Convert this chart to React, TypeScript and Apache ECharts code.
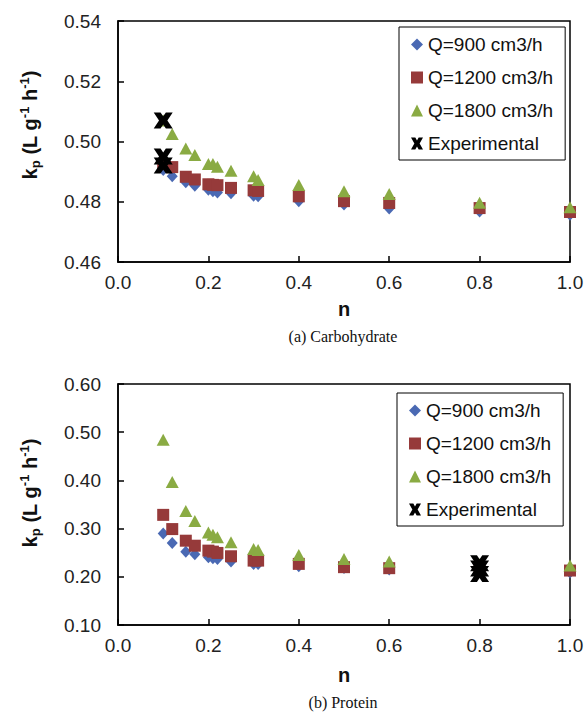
import React, { useEffect, useRef } from "react";
import * as echarts from "echarts";

// n values (shared by all model series)
const nValues = [0.1, 0.12, 0.15, 0.17, 0.2, 0.21, 0.22, 0.25, 0.3, 0.31, 0.4, 0.5, 0.6, 0.8, 1.0];

// (a) Carbohydrate
const carbQ900 = [0.4905, 0.4885, 0.4865, 0.4853, 0.484, 0.4835, 0.4831, 0.4828, 0.482, 0.4818, 0.4802, 0.4791, 0.4778, 0.4768, 0.4757];
const carbQ1200 = [0.4925, 0.4915, 0.4883, 0.4874, 0.4858, 0.4856, 0.4855, 0.4846, 0.4838, 0.4836, 0.4818, 0.4802, 0.4796, 0.4779, 0.4766];
const carbQ1800 = [0.507, 0.5025, 0.4977, 0.4955, 0.4925, 0.4925, 0.4916, 0.4903, 0.4885, 0.4872, 0.4856, 0.4835, 0.4826, 0.4797, 0.4782];
const carbExpN = [0.1, 0.1, 0.1];
const carbExp = [0.507, 0.495, 0.492];

// (b) Protein
const protQ900 = [0.29, 0.27, 0.2522, 0.2468, 0.2406, 0.2385, 0.237, 0.2316, 0.2268, 0.2268, 0.222, 0.218, 0.215, 0.212, 0.209];
const protQ1200 = [0.3285, 0.299, 0.2749, 0.2645, 0.2543, 0.2522, 0.2495, 0.2426, 0.2336, 0.2336, 0.2268, 0.22, 0.2179, 0.2155, 0.213];
const protQ1800 = [0.4845, 0.3965, 0.3367, 0.316, 0.292, 0.2875, 0.2818, 0.2715, 0.2577, 0.2557, 0.2454, 0.237, 0.2316, 0.226, 0.2233];
const protExpN = [0.8, 0.8, 0.8];
const protExp = [0.228, 0.217, 0.206];

const seriesNames = ["Q=900 cm3/h", "Q=1200 cm3/h", "Q=1800 cm3/h", "Experimental"];
const captions = ["(a) Carbohydrate", "(b) Protein"];

const xPath = "path://M0,0 L3.6,0 L5,2.4 L6.4,0 L10,0 L7.2,5 L10,10 L6.4,10 L5,7.6 L3.6,10 L0,10 L2.8,5 Z";

const BLUE = "#4a69b3";
const RED = "#963a3a";
const GREEN = "#8aab43";
const FONT = "'Liberation Sans', Arial, sans-serif";

const pairs = (xs: number[], ys: number[]) => ys.map((y, i) => [xs[i], y]);

export default function App() {
  const ref = useRef<HTMLDivElement>(null);
  useEffect(() => {
    if (!ref.current) return;
    const chart = echarts.init(ref.current, undefined, { renderer: "svg" });

    const gridTops = [21, 384];
    const grids = gridTops.map((t) => ({
      left: 118,
      top: t,
      width: 452,
      height: 241,
      show: true,
      borderColor: "#000",
      borderWidth: 1.5,
      backgroundColor: "transparent",
    }));

    const xAxes = [0, 1].map((g) => ({
      type: "value",
      gridIndex: g,
      min: 0,
      max: 1,
      interval: 0.2,
      axisLine: { show: true, onZero: false, lineStyle: { color: "#000", width: 1.5 } },
      axisTick: { show: true, inside: true, length: 6, lineStyle: { color: "#000", width: 1.5 } },
      splitLine: { show: false },
      axisLabel: {
        margin: 11,
        fontSize: 19,
        color: "#222",
        fontFamily: FONT,
        formatter: (v: number) => v.toFixed(1),
      },
    }));

    const yRanges = [
      { min: 0.46, max: 0.54, interval: 0.02 },
      { min: 0.1, max: 0.6, interval: 0.1 },
    ];
    const yAxes = yRanges.map((r, g) => ({
      type: "value",
      gridIndex: g,
      min: r.min,
      max: r.max,
      interval: r.interval,
      axisLine: { show: true, onZero: false, lineStyle: { color: "#000", width: 1.5 } },
      axisTick: { show: true, inside: true, length: 6, lineStyle: { color: "#000", width: 1.5 } },
      splitLine: { show: false },
      axisLabel: {
        margin: 17,
        fontSize: 19,
        color: "#222",
        fontFamily: FONT,
        formatter: (v: number) => v.toFixed(2),
      },
    }));

    const mk = (g: number, name: string, data: number[][], symbol: string, size: any, color: string, z: number) => ({
      type: "scatter",
      name,
      xAxisIndex: g,
      yAxisIndex: g,
      data,
      symbol,
      symbolSize: size,
      itemStyle: { color, opacity: 1 },
      z,
    });

    const series = [
      mk(0, seriesNames[0], pairs(nValues, carbQ900), "diamond", [11, 12], BLUE, 2),
      mk(0, seriesNames[1], pairs(nValues, carbQ1200), "rect", [12, 12], RED, 3),
      mk(0, seriesNames[2], pairs(nValues, carbQ1800), "triangle", [13, 12], GREEN, 4),
      mk(0, seriesNames[3], pairs(carbExpN, carbExp), xPath, [19, 16], "#000", 5),
      mk(1, seriesNames[0], pairs(nValues, protQ900), "diamond", [11, 12], BLUE, 2),
      mk(1, seriesNames[1], pairs(nValues, protQ1200), "rect", [12, 12], RED, 3),
      mk(1, seriesNames[2], pairs(nValues, protQ1800), "triangle", [13, 12], GREEN, 4),
      mk(1, seriesNames[3], pairs(protExpN, protExp), xPath, [19, 16], "#000", 5),
    ];

    const icons = ["diamond", "rect", "triangle", xPath];
    const legendPos = [
      { left: 399, top: 27 },
      { left: 397, top: 393 },
    ];
    const legends = legendPos.map((p) => ({
      left: p.left,
      top: p.top,
      orient: "vertical",
      padding: [8, 12, 7, 12],
      borderColor: "#000",
      borderWidth: 1,
      itemGap: 14,
      itemWidth: 12,
      itemHeight: 12,
      selectedMode: false,
      textStyle: { fontSize: 19, color: "#111", fontFamily: FONT },
      data: seriesNames.map((n, i) => ({ name: n, icon: icons[i] })),
    }));

    const yName = (cy: number) => ({
      type: "text",
      x: 30,
      y: cy,
      rotation: Math.PI / 2,
      style: {
        text: "{a|k}{sub|p}{a| (L g}{sup|-1}{a| h}{sup|-1}{a|)}",
        align: "center",
        verticalAlign: "middle",
        rich: {
          a: { fontSize: 20, fontWeight: "bold", fontFamily: FONT, fill: "#111", lineHeight: 24, verticalAlign: "middle" },
          sub: { fontSize: 13, fontWeight: "bold", fontFamily: FONT, fill: "#111", verticalAlign: "bottom", lineHeight: 24 },
          sup: { fontSize: 13, fontWeight: "bold", fontFamily: FONT, fill: "#111", verticalAlign: "top", lineHeight: 24 },
        },
      },
    });

    const nLabel = (cy: number) => ({
      type: "text",
      x: 344,
      y: cy,
      style: { text: "n", fontSize: 20, fontWeight: "bold", fontFamily: FONT, fill: "#111", align: "center", verticalAlign: "middle" },
    });

    const caption = (txt: string, cy: number) => ({
      type: "text",
      x: 343,
      y: cy,
      style: { text: txt, fontSize: 16, fontFamily: "'Liberation Serif', 'Times New Roman', serif", fill: "#111", align: "center", verticalAlign: "middle" },
    });

    chart.setOption({
      animation: false,
      backgroundColor: "#fff",
      grid: grids,
      xAxis: xAxes,
      yAxis: yAxes,
      legend: legends,
      series,
      graphic: [
        yName(125),
        yName(493),
        nLabel(309),
        nLabel(675),
        caption(captions[0], 336),
        caption(captions[1], 702),
      ],
    });
    return () => chart.dispose();
  }, []);
  return <div ref={ref} style={{ position: "absolute", left: 0, top: 0, width: 587, height: 712 }} />;
}
